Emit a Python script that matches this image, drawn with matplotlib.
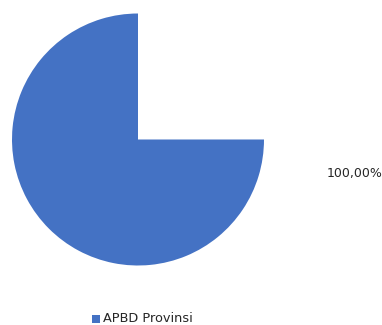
import matplotlib
matplotlib.use("Agg")
import matplotlib.pyplot as plt
from matplotlib.patches import Rectangle

# Funding source share
categories = ["APBD Provinsi"]
shares = [100.0]          # percent
unallocated = [33.33]     # blank remainder of the circle
slice_colors = ["#4472C4"]

W, H = 382, 325
fig = plt.figure(figsize=(W / 100, H / 100), dpi=100)
ax = fig.add_axes([0, 0, 1, 1])

ax.pie(
    shares + unallocated,
    colors=slice_colors + ["none"],
    startangle=90,
    counterclock=True,
    center=(138, H - 139.5),
    radius=126,
    frame=True,
)
ax.set_xlim(0, W)
ax.set_ylim(0, H)
ax.set_aspect("equal")
ax.axis("off")

for val in shares:
    ax.text(355, H - 174, f"{val:.2f}%".replace(".", ","),
            ha="center", va="center", fontsize=9, color="#262626",
            family="DejaVu Sans")

# legend
ax.add_patch(Rectangle((92, H - 323), 8, 8, color=slice_colors[0], lw=0))
ax.text(103, H - 319, categories[0], ha="left", va="center",
        fontsize=9.3, color="#262626", family="DejaVu Sans")

fig.savefig("out.png", dpi=100)
